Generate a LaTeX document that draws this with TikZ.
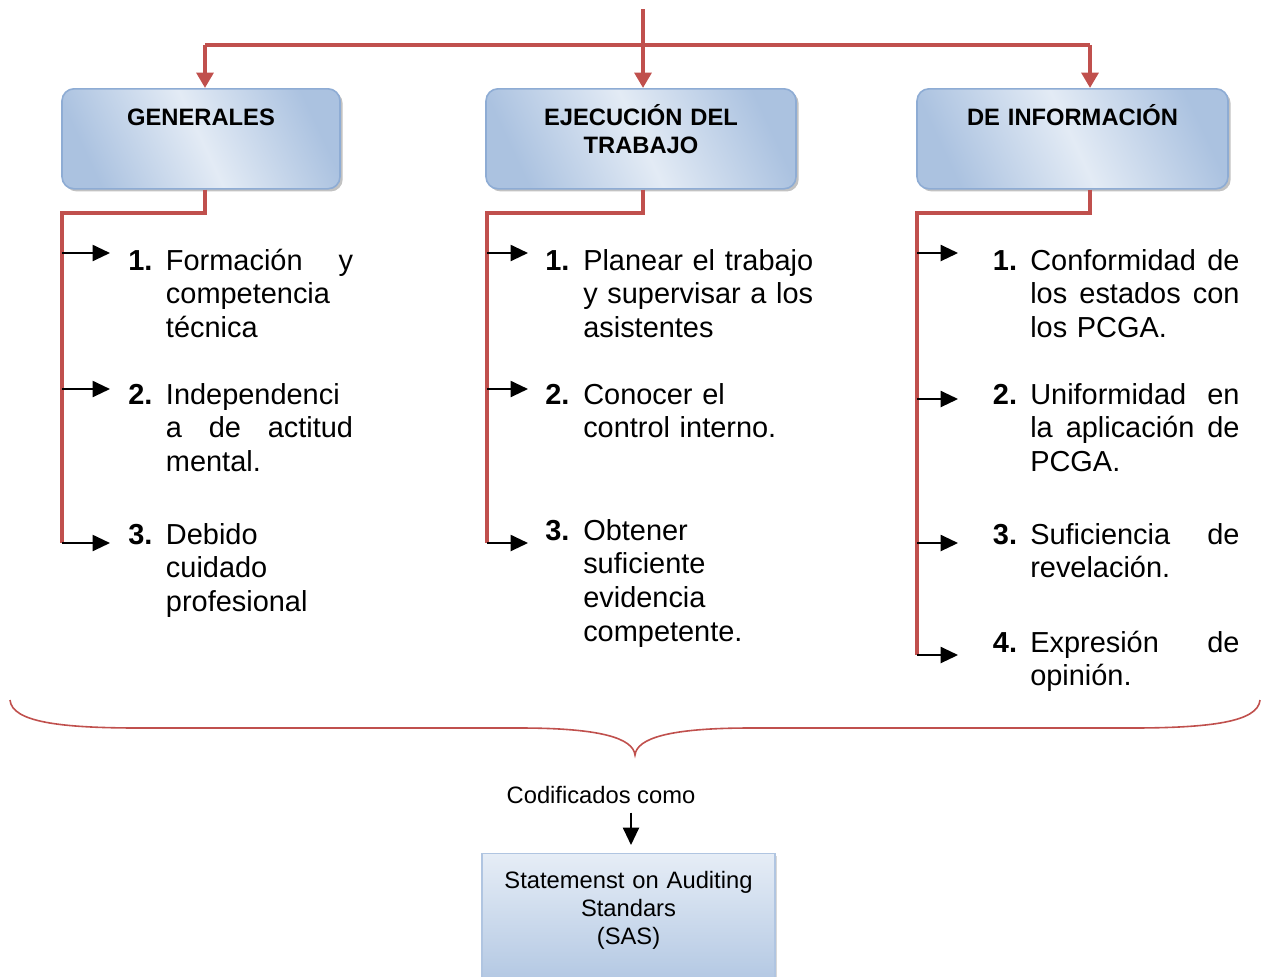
\documentclass[tikz,border=0pt]{standalone}
\usepackage{fontspec}
\setmainfont{Liberation Sans}
\usetikzlibrary{arrows.meta,shadows,positioning}
\definecolor{rojo}{HTML}{C0504D}
\definecolor{azulb}{HTML}{8EACD4}
\definecolor{azulc}{HTML}{E3EBF5}
\definecolor{azuld}{HTML}{ABC2E0}

\begin{document}
\begin{tikzpicture}[x=0.75pt,y=-0.75pt,line cap=butt,line join=miter]
				\tikzset{catbox/.style={draw=azulb,line width=1.2pt,rounded corners=9pt,
						top color=azuld,bottom color=azuld,middle color=azulc,shading angle=-65,
						drop shadow={shadow xshift=2pt,shadow yshift=-2pt,fill=black!40,opacity=.6},
						anchor=north,align=center,inner sep=0pt,text height=27.75pt,text depth=47.25pt,
						font=\bfseries\fontsize{17.8}{21}\selectfont},
					sasbox/.style={draw=azulb!70,line width=1pt,
						top color=azulc!90!white,bottom color=azuld,
						drop shadow={shadow xshift=1.5pt,shadow yshift=-1.5pt,fill=black!30,opacity=.5},
						anchor=north,align=center,inner sep=0pt,text width=219.75pt,text height=26pt,text depth=85pt,
						font=\fontsize{17.8}{21}\selectfont},
					redline/.style={draw=rojo,line width=3pt},
					redarrow/.style={redline,-{Triangle[length=11.5pt,width=12.5pt]}},
					itemarrow/.style={draw=black,line width=1.5pt,-{Triangle[length=13pt,width=12pt]}},
					numlab/.style={anchor=base west,inner sep=0pt,font=\bfseries\fontsize{21.7}{25.4}\selectfont},
					itemtxt/.style={anchor=base west,inner sep=0pt,align=left,font=\fontsize{21.7}{25.4}\selectfont}
				}
				\useasboundingbox (0,0) rectangle (1269,976);
				\coordinate (top) at (643,9);
				\coordinate (cg) at (205,45);
				\coordinate (cm) at (643,45);
				\coordinate (cd) at (1090,45);
				\node[catbox,text width=208.5pt] (gen) at (201,88) {GENERALES};
				\node[catbox,text width=232.5pt] (ejec) at (641,88) {EJECUCIÓN DEL\\TRABAJO};
				\node[catbox,text width=233.25pt] (info) at (1072.5,88) {DE INFORMACIÓN};
				\draw[redline] (top) -- (cm);
				\draw[redline] (cg) -- (cd);
				\draw[redarrow] (cg) -- (cg |- gen.north);
				\draw[redarrow] (cm) -- (cm |- ejec.north);
				\draw[redarrow] (cd) -- (cd |- info.north);
				\coordinate (gk) at (62,213); \coordinate (ga1) at (62,253); \coordinate (ga2) at (62,389); \coordinate (ga3) at (62,543);
				\coordinate (mk) at (487,213); \coordinate (ma1) at (487,253); \coordinate (ma2) at (487,389); \coordinate (ma3) at (487,543);
				\coordinate (dk) at (917,213); \coordinate (da1) at (917,253); \coordinate (da2) at (917,399); \coordinate (da3) at (917,543); \coordinate (da4) at (917,655);
				\draw[redline] (cg |- gen.south) |- (gk) -- (ga3);
				\draw[redline] (cm |- ejec.south) |- (mk) -- (ma3);
				\draw[redline] (cd |- info.south) |- (dk) -- (da4);
				\node[numlab] (gn1) at (128,270) {1.};
				\node[numlab] (gn2) at (128,404) {2.};
				\node[numlab] (gn3) at (128,544) {3.};
				\node[itemtxt,text width=140.3pt] (gt1) at (165.7,270) {Formación\hfill y\\competencia\\técnica};
				\node[itemtxt,text width=140.3pt] (gt2) at (165.7,404) {Independenci\\a\hfill de\hfill actitud\\mental.};
				\node[itemtxt,text width=140.3pt] (gt3) at (165.7,544) {Debido\\cuidado\\profesional};
				\node[numlab] (mn1) at (545,270) {1.};
				\node[numlab] (mn2) at (545,404) {2.};
				\node[numlab] (mn3) at (545,540) {3.};
				\node[itemtxt,text width=180pt] (mt1) at (583,270) {Planear el trabajo\\y supervisar a los\\asistentes};
				\node[itemtxt,text width=180pt] (mt2) at (583,404) {Conocer el\\control interno.};
				\node[itemtxt,text width=180pt] (mt3) at (583,540) {Obtener\\suficiente\\evidencia\\competente.};
				\node[numlab] (dn1) at (992.7,270) {1.};
				\node[numlab] (dn2) at (992.7,404) {2.};
				\node[numlab] (dn3) at (992.7,544) {3.};
				\node[numlab] (dn4) at (992.7,652) {4.};
				\node[itemtxt,text width=157pt] (dt1) at (1030,270) {Conformidad\hfill de\\los\hfill estados\hfill con\\los PCGA.};
				\node[itemtxt,text width=157pt] (dt2) at (1030,404) {Uniformidad\hfill en\\la\hfill aplicación\hfill de\\PCGA.};
				\node[itemtxt,text width=157pt] (dt3) at (1030,544) {Suficiencia\hfill de\\revelación.};
				\node[itemtxt,text width=157pt] (dt4) at (1030,652) {Expresión\hfill de\\opinión.};
				\draw[itemarrow,shorten >=13.5pt] (ga1) -- (ga1 -| gn1.west);
				\draw[itemarrow,shorten >=13.5pt] (ga2) -- (ga2 -| gn2.west);
				\draw[itemarrow,shorten >=13.5pt] (ga3) -- (ga3 -| gn3.west);
				\draw[itemarrow,shorten >=12.75pt] (ma1) -- (ma1 -| mn1.west);
				\draw[itemarrow,shorten >=12.75pt] (ma2) -- (ma2 -| mn2.west);
				\draw[itemarrow,shorten >=12.75pt] (ma3) -- (ma3 -| mn3.west);
				\draw[itemarrow,shorten >=26pt] (da1) -- (da1 -| dn1.west);
				\draw[itemarrow,shorten >=26pt] (da2) -- (da2 -| dn2.west);
				\draw[itemarrow,shorten >=26pt] (da3) -- (da3 -| dn3.west);
				\draw[itemarrow,shorten >=26pt] (da4) -- (da4 -| dn4.west);
				\draw[rojo,line width=1.2pt] (10,700) .. controls (12,722) and (60,728) .. (140,728) -- (520,728)
					.. controls (600,728) and (633,738) .. (635,755) .. controls (637,738) and (670,728) .. (750,728)
					-- (1130,728) .. controls (1210,728) and (1258,722) .. (1260,700);
				\node[anchor=base,inner sep=0pt,font=\fontsize{17.8}{21}\selectfont] (cod) at (601,803) {Codificados como};
				\node[sasbox] (sas) at (628.5,853) {Statemenst on Auditing\\Standars\\(SAS)};
				\draw[itemarrow,shorten <=6.75pt,shorten >=6pt] (cod.south -| 631,0) -- (sas.north -| 631,0);
			\end{tikzpicture}
\end{document}
